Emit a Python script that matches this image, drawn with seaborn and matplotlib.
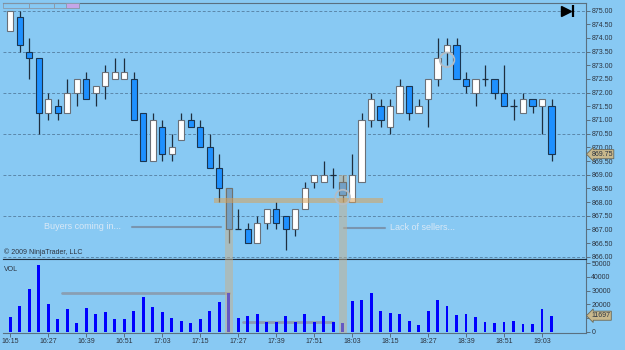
import numpy as np
import pandas as pd
import seaborn as sns
import matplotlib.pyplot as plt
from matplotlib.patches import Rectangle

# ---------------------------------------------------------
# Data (3-minute bars, 16:15 - 19:06)
# ---------------------------------------------------------
opens = [874.25, 874.75, 873.5, 873.25, 871.25, 871.5, 871.25, 872.0, 872.5, 872.0,
         872.25, 872.5, 872.5, 872.5, 871.25, 869.5, 870.75, 869.75, 870.25, 871.0,
         870.75, 870.0, 869.25, 868.5, 867.0, 867.0, 866.5, 867.25, 867.75, 867.5,
         867.0, 867.75, 868.75, 868.75, 869.0, 868.75, 868.0, 868.75, 871.0, 871.5,
         870.75, 871.25, 872.25, 871.25, 871.75, 872.5, 873.5, 873.75, 872.5, 872.0,
         872.5, 872.5, 872.0, 871.5, 871.25, 871.75, 871.5, 871.5]
highs = [875.0, 875.0, 874.0, 873.25, 872.0, 871.75, 872.5, 872.5, 872.75, 872.25,
         873.0, 873.25, 873.25, 872.75, 871.25, 871.25, 871.0, 870.5, 871.25, 871.25,
         871.0, 870.5, 869.75, 868.5, 867.75, 867.25, 867.5, 867.75, 868.0, 867.5,
         867.75, 868.75, 869.0, 869.5, 869.25, 869.0, 869.75, 871.25, 872.0, 871.75,
         871.75, 872.5, 872.25, 871.75, 872.5, 874.0, 874.0, 874.0, 872.75, 872.5,
         873.0, 872.5, 873.0, 871.75, 872.0, 871.75, 871.75, 871.75]
lows = [874.25, 873.5, 872.5, 870.5, 871.0, 871.0, 871.25, 871.5, 871.75, 871.5,
        871.75, 872.5, 872.5, 871.0, 869.5, 869.5, 869.5, 869.5, 870.25, 870.75,
        870.0, 869.25, 868.0, 866.5, 867.0, 866.5, 866.5, 867.0, 867.0, 866.25,
        866.75, 867.75, 868.5, 868.75, 868.5, 868.0, 868.0, 868.75, 870.75, 870.75,
        870.5, 871.25, 871.0, 871.25, 870.75, 872.25, 873.0, 872.5, 872.0, 871.5,
        872.25, 871.75, 871.5, 871.0, 871.25, 871.25, 870.5, 869.5]
closes = [875.0, 873.75, 873.25, 871.25, 871.75, 871.25, 872.0, 872.5, 871.75, 872.25,
          872.75, 872.75, 872.75, 871.0, 869.5, 871.0, 869.75, 870.0, 871.0, 870.75,
          870.0, 869.25, 868.5, 867.0, 867.0, 866.5, 867.25, 867.75, 867.25, 867.0,
          867.75, 868.5, 869.0, 869.0, 869.0, 868.25, 869.0, 871.0, 871.75, 871.0,
          871.5, 872.25, 871.25, 871.5, 872.5, 873.25, 873.75, 872.5, 872.25, 872.5,
          872.5, 872.0, 871.5, 871.5, 871.75, 871.5, 871.75, 869.75]
volume = [11000, 19000, 31000, 49000, 20000, 9300, 16600, 6600, 17600, 12700,
          14100, 9000, 9000, 14900, 25600, 17800, 14100, 10200, 7800, 6600,
          9300, 15400, 22000, 28500, 9800, 11500, 12700, 7300, 7300, 11700,
          7300, 12900, 7300, 11700, 7300, 6600, 22400, 22900, 28000, 15400,
          13900, 12700, 8000, 5100, 15400, 22900, 18500, 12200, 12900, 10700,
          7300, 6600, 7300, 8000, 5900, 5900, 16600, 11697]
time_labels = ["16:15", "16:27", "16:39", "16:51", "17:03", "17:15", "17:27", "17:39",
               "17:51", "18:03", "18:15", "18:27", "18:39", "18:51", "19:03"]

df = pd.DataFrame({"open": opens, "high": highs, "low": lows, "close": closes, "volume": volume})
df["bar"] = np.arange(len(df))

# ---------------------------------------------------------
# Style
# ---------------------------------------------------------
BG = "#88c9f3"
UP = "#ffffff"
DOWN = "#1e90ff"
BAND = "#d8a35c"      # horizontal marker band
VBAND = "#c9b08a"     # vertical marker bands (greyer)
TXT = "#2c3440"

sns.set_theme(style="white")
plt.rcParams["font.family"] = ["Liberation Sans", "DejaVu Sans"]

fig = plt.figure(figsize=(6.25, 3.5), dpi=100, facecolor=BG)
ax = fig.add_axes([3 / 625, 1 - 259 / 350, 582.7 / 625, 256 / 350])
axv = fig.add_axes([3 / 625, 1 - 332.7 / 350, 582.7 / 625, 73.7 / 350])
for a in (ax, axv):
    a.set_facecolor(BG)
    a.set_xlim(-0.77, 60.6)
    for s in a.spines.values():
        s.set_color("#5a7080")
        s.set_linewidth(0.8)
    a.spines["left"].set_visible(False)

# ---------------------------------------------------------
# Price panel
# ---------------------------------------------------------
ax.set_ylim(865.915, 875.28)
for lvl in [875.0, 873.5, 872.0, 870.5, 869.0, 867.5, 866.0]:
    ax.axhline(lvl, color="#5b87aa", lw=0.7, ls=(0, (3, 2)), zorder=0)

up = df["close"] > df["open"]
dn = df["close"] < df["open"]
doji = df["close"] == df["open"]

ax.vlines(df["bar"], df["low"], df["high"], color="#1e2e3e", lw=0.9, zorder=1)
ax.bar(df.loc[up, "bar"], df.loc[up, "close"] - df.loc[up, "open"],
       bottom=df.loc[up, "open"], width=0.66, color=UP, edgecolor="#6a7078", lw=0.8, zorder=2)
ax.bar(df.loc[dn, "bar"], df.loc[dn, "open"] - df.loc[dn, "close"],
       bottom=df.loc[dn, "close"], width=0.66, color=DOWN, edgecolor="#1a3550", lw=0.8, zorder=2)
ax.hlines(df.loc[doji, "close"], df.loc[doji, "bar"] - 0.33, df.loc[doji, "bar"] + 0.33,
          color="#1e2e3e", lw=0.9, zorder=2)

# highlight bands
y0 = ax.get_ylim()[0]
for b in [23, 35]:
    ax.bar(b, df.loc[b, "high"] - y0, bottom=y0, width=0.85, color=VBAND, alpha=0.5, lw=0, zorder=3)
    axv.axvspan(b - 0.425, b + 0.425, color=VBAND, alpha=0.5, lw=0, zorder=3)
ax.fill_between([21.5, 39.2], 867.96, 868.14, color=BAND, alpha=0.55, lw=0, zorder=3)

# circles
ax.scatter([35, 46], [868.18, 873.2], s=110, facecolors="none", edgecolors="#b4bcc4", lw=1.3, zorder=4)

# annotations
ax.text(3.55, 867.12, "Buyers coming in...", fontsize=6.5, color="#d8e8f6", va="center", ha="left")
ax.plot([12.8, 22.2], [867.08, 867.08], color="#7890a8", lw=1.5, alpha=0.9)
ax.text(40.0, 867.05, "Lack of sellers...", fontsize=6.5, color="#d8e8f6", va="center", ha="left")
ax.plot([35.1, 39.5], [867.05, 867.05], color="#7890a8", lw=1.5, alpha=0.9)

ax.text(0.002, 0.012, "\u00a9 2009 NinjaTrader, LLC", transform=ax.transAxes, fontsize=5,
        color=TXT, ha="left", va="bottom")

price_ticks = np.arange(866.0, 875.01, 0.5)
ax.yaxis.tick_right()
ax.set_yticks(price_ticks)
ax.set_yticklabels([f"{v:.2f}" for v in price_ticks])
ax.tick_params(axis="y", right=True, length=3, width=0.7, color="#5a7080", pad=1,
               labelsize=5, labelcolor=TXT)
ax.set_xticks([])

ax.annotate(f"{closes[-1]:.2f}", xy=(1.0, closes[-1]), xycoords=("axes fraction", "data"),
            xytext=(4, 0), textcoords="offset points", fontsize=5, color=TXT, va="center",
            bbox=dict(boxstyle="larrow,pad=0.15", fc="#c8b88c", ec="#6a6a5a", lw=0.6),
            annotation_clip=False, zorder=10)

# play/end icon
ax.plot([0.966], [0.968], marker=">", ms=7, color="black", transform=ax.transAxes, clip_on=False)
ax.plot([0.979], [0.968], marker="|", ms=8, mew=1.6, color="black", transform=ax.transAxes, clip_on=False)

# top-left tabs
for x0, w, fc in [(3, 25.5, "none"), (28.5, 25.8, "none"), (54.3, 25, "none"), (65.7, 13.6, "#c4a6e8")]:
    fig.patches.append(Rectangle((x0 / 625, 1 - 7.5 / 350), w / 625, 4.2 / 350, transform=fig.transFigure,
                                 fc=fc, ec="#8a9aaa", lw=0.6))

# ---------------------------------------------------------
# Volume panel
# ---------------------------------------------------------
sns.barplot(data=df, x="bar", y="volume", native_scale=True, color="#0000ff", saturation=1,
            width=0.3, errorbar=None, ax=axv, zorder=2, linewidth=0)
axv.set_xlim(-0.77, 60.6)
axv.set_ylim(-730, 53140)
axv.set_xlabel("")
axv.set_ylabel("")
axv.plot([5.45, 23], [28500, 28500], color="#8a98a8", lw=2, alpha=0.85, zorder=1)
axv.plot([24.5, 34], [7300, 7300], color="#8a98a8", lw=2, alpha=0.85, zorder=1)
axv.spines["top"].set_color("#1e2e3e")
axv.text(0.002, 0.86, "VOL", transform=axv.transAxes, fontsize=5, color=TXT, ha="left", va="center")

# the 10000 label sits under the last-value marker, as in the original
vol_ticks = np.arange(0, 50001, 10000)
axv.yaxis.tick_right()
axv.set_yticks(vol_ticks)
axv.set_yticklabels(["" if v == 10000 else str(v) for v in vol_ticks])
axv.tick_params(axis="y", right=True, length=3, width=0.7, color="#5a7080", pad=1,
                labelsize=5, labelcolor=TXT)
axv.set_xticks(np.arange(0, len(df), 4))
axv.set_xticklabels(time_labels)
axv.tick_params(axis="x", bottom=True, length=3, width=0.7, color="#5a7080", pad=1,
                labelsize=5, labelcolor=TXT)

axv.annotate(f"{volume[-1]}", xy=(1.0, volume[-1]), xycoords=("axes fraction", "data"),
             xytext=(4, 0), textcoords="offset points", fontsize=5, color=TXT, va="center",
             bbox=dict(boxstyle="larrow,pad=0.15", fc="#c8b88c", ec="#6a6a5a", lw=0.6),
             annotation_clip=False, zorder=10)

plt.savefig("out.png", dpi=100, facecolor=BG)
